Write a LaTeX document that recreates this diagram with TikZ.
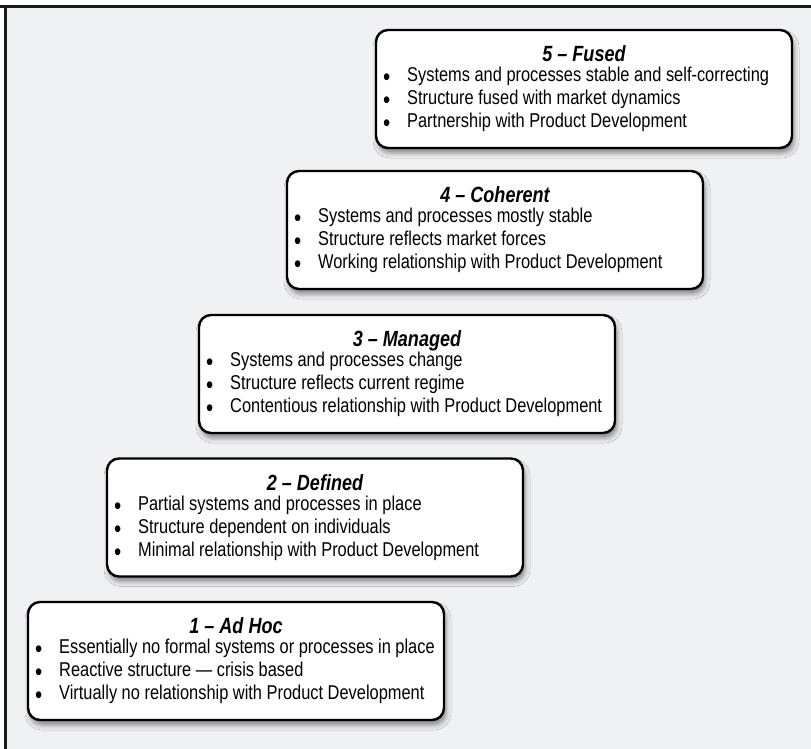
\documentclass[tikz,border=0pt]{standalone}
\usepackage{fontspec}
\newfontfamily\condfont[FakeStretch=0.82]{Liberation Sans}
\usetikzlibrary{shadows.blur}
\definecolor{bgcol}{HTML}{F0F1F2}
\definecolor{framecol}{HTML}{1A1A1A}
\newcommand{\stagebullet}{{\fontsize{25}{0}\selectfont\raisebox{-3.6pt}{\smash{•}}}\hspace{17pt}}
\begin{document}
\begin{tikzpicture}[x=1pt,y=1pt,
  stage/.style={draw=black, line width=2.4pt, rounded corners=12pt, fill=white,
    minimum width=416pt, minimum height=118pt, inner sep=0pt,
    blur shadow={shadow xshift=2pt, shadow yshift=-5pt, shadow blur radius=5pt, shadow opacity=45}},
  stagetitle/.style={anchor=base, inner sep=0pt, font=\condfont\fontsize{22}{25}\selectfont\bfseries\itshape},
  stagelist/.style={anchor=west, align=left, inner sep=0pt, font=\condfont\fontsize{20}{23}\selectfont},
]
\useasboundingbox (0,0) rectangle (811,-749);
\fill[white] (0,0) rectangle (811,-749);
\fill[bgcol] (5,-6) rectangle (811,-749);
\draw[framecol, line width=3pt] (0,-6.5) -- (811,-6.5);
\draw[framecol, line width=3pt] (5.5,-5) -- (5.5,-749);

% 5
\node[stage] (b5) at (584,-89) {};
\node[stagetitle] (t5) at ([yshift=-33pt]b5.north) {5 – Fused};
\node[stagelist] (l5) at ([xshift=8pt,yshift=-71pt]b5.north west)
  {\stagebullet Systems and processes stable and self-correcting\\
   \stagebullet Structure fused with market dynamics\\
   \stagebullet Partnership with Product Development};

% 4
\node[stage] (b4) at (495,-230) {};
\node[stagetitle] (t4) at ([yshift=-33pt]b4.north) {4 – Coherent};
\node[stagelist] (l4) at ([xshift=8pt,yshift=-71pt]b4.north west)
  {\stagebullet Systems and processes mostly stable\\
   \stagebullet Structure reflects market forces\\
   \stagebullet Working relationship with Product Development};

% 3
\node[stage] (b3) at (407,-374) {};
\node[stagetitle] (t3) at ([yshift=-33pt]b3.north) {3 – Managed};
\node[stagelist] (l3) at ([xshift=8pt,yshift=-71pt]b3.north west)
  {\stagebullet Systems and processes change\\
   \stagebullet Structure reflects current regime\\
   \stagebullet Contentious relationship with Product Development};

% 2
\node[stage] (b2) at (315,-517.5) {};
\node[stagetitle] (t2) at ([yshift=-33pt]b2.north) {2 – Defined};
\node[stagelist] (l2) at ([xshift=8pt,yshift=-71pt]b2.north west)
  {\stagebullet Partial systems and processes in place\\
   \stagebullet Structure dependent on individuals\\
   \stagebullet Minimal relationship with Product Development};

% 1
\node[stage] (b1) at (236,-661) {};
\node[stagetitle] (t1) at ([yshift=-33pt]b1.north) {1 – Ad Hoc};
\node[stagelist] (l1) at ([xshift=8pt,yshift=-71pt]b1.north west)
  {\stagebullet Essentially no formal systems or processes in place\\
   \stagebullet Reactive structure — crisis based\\
   \stagebullet Virtually no relationship with Product Development};
\end{tikzpicture}
\end{document}
